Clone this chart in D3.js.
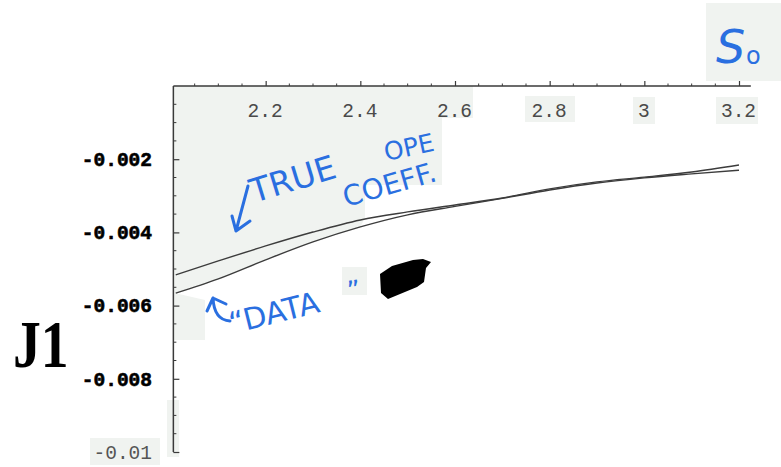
<!DOCTYPE html>
<html>
<head>
<meta charset="utf-8">
<script src="https://cdn.jsdelivr.net/npm/d3@7"></script>
<style>
  html, body { margin: 0; padding: 0; background: #ffffff; }
  svg { display: block; }
</style>
</head>
<body>
<svg id="chart" width="781" height="467"></svg>
<script>
// Sample points along the S0 coupling (horizontal axis)
const xValues = [2.01, 2.1, 2.2, 2.3, 2.4, 2.5, 2.6, 2.7, 2.8, 2.9, 3.0, 3.1, 3.2];
// J1 from the true OPE coefficient
const trueCoeff = [-0.00516, -0.00478, -0.00437, -0.00399, -0.00366, -0.00344, -0.00325,
                   -0.00306, -0.00281, -0.00262, -0.00249, -0.00235, -0.00216];
// J1 from the "data" fit
const dataCurve = [-0.00566, -0.00527, -0.00475, -0.00426, -0.00385, -0.00352, -0.00329,
                   -0.00307, -0.00284, -0.00265, -0.00251, -0.00240, -0.00230];
// Axis ticks
const xTickValues = [2.2, 2.4, 2.6, 2.8, 3, 3.2];
const xTickLabels = ["2.2", "2.4", "2.6", "2.8", "3", "3.2"];
const yTickValues = [-0.002, -0.004, -0.006, -0.008, -0.01];
const yTickLabels = ["-0.002", "-0.004", "-0.006", "-0.008", "-0.01"];

const svg = d3.select("#chart");
const x = d3.scaleLinear().domain([2, 3.2]).range([171, 739]);
const y = d3.scaleLinear().domain([-0.01, 0]).range([452, 86]);

const tint = "#f0f3f0";
const ink = "#3a3a3a";
const blue = "#2a6fe0";

// light paper shading behind parts of the plot
const shade = svg.append("g");
const lowerEdge = xValues.map((v, i) => [x(v), y(dataCurve[i])]).filter(p => p[0] <= 365);
const shadePoly = [[173, 86], [473, 86], [473, 118], [442, 118], [442, 185], [365, 185], [365, y(-0.0036)]]
  .concat(lowerEdge.slice().reverse())
  .concat([[205, 300], [205, 340], [173, 340]]);
shade.append("path").attr("d", d3.line()(shadePoly)).attr("fill", tint);
[[525, 96, 50, 26], [633, 97, 22, 27], [716, 97, 42, 27], [90, 438, 70, 27],
 [167, 400, 12, 57], [342, 267, 25, 28], [706, 3, 75, 78]].forEach(r => {
  shade.append("rect").attr("x", r[0]).attr("y", r[1]).attr("width", r[2]).attr("height", r[3]).attr("fill", tint);
});

// horizontal axis along the top (J1 = 0)
const xAxis = d3.axisTop(x).tickValues(xTickValues).tickSize(5)
  .tickFormat((d, i) => xTickLabels[i]);
const gx = svg.append("g").attr("transform", `translate(0,${y(0)})`).call(xAxis);
gx.select(".domain").remove();
gx.selectAll(".tick line").attr("stroke", ink).attr("stroke-width", 1.2);
gx.selectAll(".tick text")
  .attr("y", 24).attr("dy", "0.35em").attr("x", -1)
  .attr("fill", "#4a4a4a")
  .style("font-family", "'Liberation Mono', 'DejaVu Sans Mono', monospace")
  .style("font-size", "19.5px");
const xMinor = d3.range(2.05, 3.2001, 0.05).filter(v => !xTickValues.some(t => Math.abs(t - v) < 1e-6));
svg.append("g").selectAll("line").data(xMinor).join("line")
  .attr("x1", d => x(d)).attr("x2", d => x(d))
  .attr("y1", y(0)).attr("y2", y(0) - 2.5)
  .attr("stroke", ink).attr("stroke-width", 1);
svg.append("line")
  .attr("x1", x(2.005)).attr("x2", x(3.225))
  .attr("y1", y(0)).attr("y2", y(0))
  .attr("stroke", ink).attr("stroke-width", 1.5);

// vertical axis
const axisX = x(2.005);
const yAxis = d3.axisRight(y).tickValues(yTickValues).tickSize(6).tickFormat("");
const gy = svg.append("g").attr("transform", `translate(${axisX},0)`).call(yAxis);
gy.select(".domain").remove();
gy.selectAll(".tick line").attr("stroke", ink).attr("stroke-width", 1.2);
const yMinor = d3.range(-0.0095, -0.0004, 0.0005).filter(v => !yTickValues.some(t => Math.abs(t - v) < 1e-9));
svg.append("g").selectAll("line").data(yMinor).join("line")
  .attr("x1", axisX).attr("x2", axisX + 3)
  .attr("y1", d => y(d)).attr("y2", d => y(d))
  .attr("stroke", ink).attr("stroke-width", 1);
svg.append("line")
  .attr("x1", axisX).attr("x2", axisX)
  .attr("y1", y(0)).attr("y2", y(-0.01))
  .attr("stroke", ink).attr("stroke-width", 1.5);

svg.append("g").selectAll("text").data(yTickValues).join("text")
  .attr("x", 152).attr("y", d => y(d)).attr("dy", "0.35em")
  .attr("text-anchor", "end")
  .style("font-family", "'Liberation Mono', 'DejaVu Sans Mono', monospace")
  .style("font-size", "19.5px")
  .style("font-weight", (d, i) => i < 4 ? "bold" : "normal")
  .attr("fill", (d, i) => i < 4 ? "#000" : "#555")
  .attr("stroke", (d, i) => i < 4 ? "#000" : "none")
  .attr("stroke-width", 0.6)
  .text((d, i) => yTickLabels[i]);

// axis title
svg.append("text")
  .attr("transform", "translate(13,367) scale(0.87,1.05)")
  .style("font-family", "'Liberation Serif', 'DejaVu Serif', serif")
  .style("font-weight", "bold")
  .style("font-size", "64px")
  .attr("fill", "#000")
  .text("J1");

// the two curves
const line = d3.line().curve(d3.curveMonotoneX).x((d, i) => x(xValues[i])).y(d => y(d));
[trueCoeff, dataCurve].forEach(series => {
  svg.append("path").datum(series)
    .attr("d", line)
    .attr("fill", "none")
    .attr("stroke", "#3c3c3c")
    .attr("stroke-width", 1.4);
});

// handwritten notes
const notes = svg.append("g").attr("fill", blue)
  .style("font-family", "'DejaVu Sans', sans-serif");
notes.append("text").attr("transform", "translate(254,203) rotate(-17)")
  .style("font-size", "33px").text("TRUE");
notes.append("text").attr("transform", "translate(386,161) rotate(-12)")
  .style("font-size", "25px").text("OPE");
notes.append("text").attr("transform", "translate(346,207) rotate(-16)")
  .style("font-size", "28px").text("COEFF.");
notes.append("text").attr("transform", "translate(232,334) rotate(-14)")
  .style("font-size", "30px").text("\u201CDATA");
notes.append("text").attr("transform", "translate(349,300) rotate(-10)")
  .style("font-size", "26px").text("\u201D");
notes.append("text").attr("x", 716).attr("y", 63)
  .style("font-size", "46px").style("font-style", "italic").text("S");
notes.append("text").attr("x", 746).attr("y", 64)
  .style("font-size", "24px").text("o");

const pen = svg.append("g").attr("fill", "none").attr("stroke", blue)
  .attr("stroke-width", 3).attr("stroke-linecap", "round").attr("stroke-linejoin", "round");
pen.append("path").attr("d", "M248,186 L236,231 M232,216 L236,231 L250,221");
pen.append("path").attr("d", "M213,298 Q214,320 230,321 M207,311 L213,298 L226,304");

// ink blot
svg.append("path")
  .attr("d", "M380,274 L392,266 L413,260 L423,259 L431,262 L426,268 L424,282 L417,287 L388,299 L381,293 Z")
  .attr("fill", "#000");
</script>
</body>
</html>
